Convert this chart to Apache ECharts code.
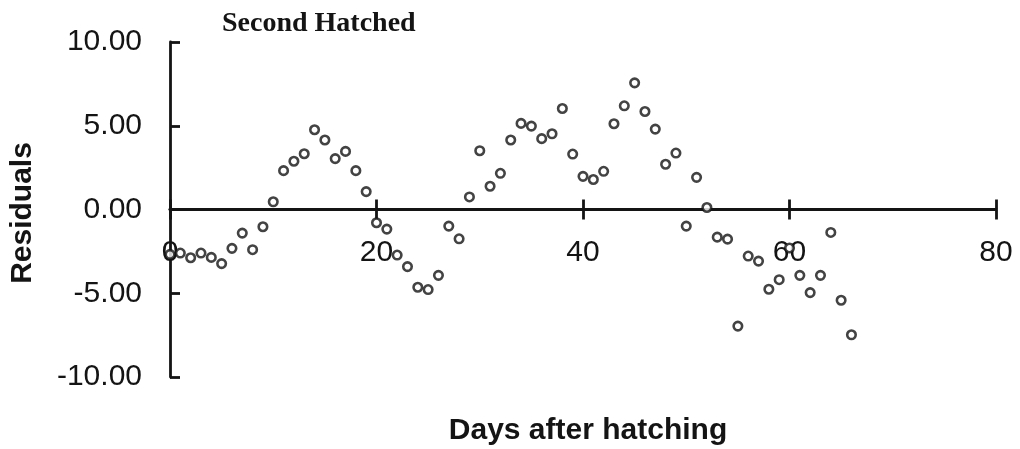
<!DOCTYPE html>
<html>
<head>
<meta charset="utf-8">
<style>
  html, body { margin: 0; padding: 0; background: #ffffff; }
  #chart { width: 1020px; height: 449px; }
</style>
<script src="https://cdn.jsdelivr.net/npm/echarts@6/dist/echarts.min.js"></script>
</head>
<body>
<div id="chart"></div>
<script>
// Residuals of the second hatched group, one value per day after hatching
const days = [
  0, 1, 2, 3, 4, 5, 6, 7, 8, 9,
  10, 11, 12, 13, 14, 15, 16, 17, 18, 19,
  20, 21, 22, 23, 24, 25, 26, 27, 28, 29,
  30, 31, 32, 33, 34, 35, 36, 37, 38, 39,
  40, 41, 42, 43, 44, 45, 46, 47, 48, 49,
  50, 51, 52, 53, 54, 55, 56, 57, 58, 59,
  60, 61, 62, 63, 64, 65, 66
];
const residuals = [
  -2.68, -2.60, -2.88, -2.60, -2.86, -3.23, -2.32, -1.41, -2.40, -1.03,
  0.46, 2.32, 2.88, 3.33, 4.76, 4.15, 3.04, 3.47, 2.32, 1.07,
  -0.79, -1.17, -2.72, -3.41, -4.64, -4.78, -3.93, -0.99, -1.75, 0.75,
  3.51, 1.39, 2.16, 4.15, 5.14, 4.98, 4.23, 4.52, 6.03, 3.31,
  1.98, 1.79, 2.28, 5.12, 6.19, 7.56, 5.85, 4.80, 2.70, 3.37,
  -0.99, 1.92, 0.12, -1.65, -1.77, -6.96, -2.78, -3.08, -4.76, -4.19,
  -2.30, -3.93, -4.96, -3.93, -1.37, -5.42, -7.48
];

// Axis ticks and their labels
const xTicks = [0, 20, 40, 60, 80];
const xTickLabels = ['0', '20', '40', '60', '80'];
const yTicks = [-10, -5, 0, 5, 10];
const yTickLabels = ['-10.00', '-5.00', '0.00', '5.00', '10.00'];

const chartTitle = 'Second Hatched';
const xTitle = 'Days after hatching';
const yTitle = 'Residuals';

const points = days.map((d, i) => [d, residuals[i]]);
const INK = '#141414';
const SANS = '"Liberation Sans", Arial, sans-serif';
const LINE_W = 2.8;

function tickLabel(ticks, labels) {
  return v => {
    const i = ticks.findIndex(t => Math.abs(t - v) < 1e-9);
    return i >= 0 ? labels[i] : '';
  };
}

// The x axis crosses the residual scale at zero; its ticks cut through the
// line, so it is drawn twice: once with ticks below, once with ticks above.
// Each copy sits on zero of its own (identical) y scale.
const baseX = {
  type: 'value',
  min: xTicks[0],
  max: xTicks[xTicks.length - 1],
  interval: 20,
  splitLine: { show: false }
};
const baseY = {
  type: 'value',
  min: yTicks[0],
  max: yTicks[yTicks.length - 1],
  interval: 5,
  splitLine: { show: false }
};

const chart = echarts.init(document.getElementById('chart'), null, { renderer: 'canvas' });
chart.setOption({
  backgroundColor: '#ffffff',
  animation: false,
  title: {
    text: chartTitle,
    left: 217,
    top: 5,
    textStyle: {
      fontFamily: '"Liberation Serif", "Times New Roman", serif',
      fontWeight: 'bold',
      fontSize: 28,
      color: INK
    }
  },
  grid: { left: 170, right: 24, top: 42, bottom: 72, containLabel: false },
  xAxis: [
    Object.assign({}, baseX, {
      position: 'bottom',
      axisLine: { show: true, onZero: true, onZeroAxisIndex: 0, lineStyle: { color: INK, width: LINE_W } },
      axisTick: { show: true, inside: false, length: 10, lineStyle: { color: INK, width: LINE_W } },
      // tick labels hang a little below the zero line
      axisLabel: {
        show: true,
        margin: -139,
        fontFamily: SANS,
        fontSize: 30,
        color: INK,
        formatter: tickLabel(xTicks, xTickLabels)
      }
    }),
    Object.assign({}, baseX, {
      position: 'bottom',
      axisLine: { show: true, onZero: true, onZeroAxisIndex: 1, lineStyle: { color: INK, width: LINE_W } },
      axisTick: { show: true, inside: true, length: 10, lineStyle: { color: INK, width: LINE_W } },
      axisLabel: { show: false }
    })
  ],
  yAxis: [
    Object.assign({}, baseY, {
      position: 'left',
      axisLine: { show: true, onZero: false, lineStyle: { color: INK, width: LINE_W } },
      axisTick: { show: true, inside: true, length: 10, lineStyle: { color: INK, width: LINE_W } },
      axisLabel: {
        margin: 28,
        fontFamily: SANS,
        fontSize: 30,
        color: INK,
        formatter: tickLabel(yTicks, yTickLabels)
      }
    }),
    Object.assign({}, baseY, {
      position: 'left',
      axisLine: { show: false, onZero: false },
      axisTick: { show: false },
      axisLabel: { show: false }
    })
  ],
  graphic: [
    {
      type: 'text',
      x: 588,
      y: 431,
      style: {
        text: xTitle,
        fontFamily: SANS,
        fontWeight: 'bold',
        fontSize: 30,
        fill: INK,
        textAlign: 'center',
        textVerticalAlign: 'middle'
      }
    },
    {
      type: 'text',
      x: 23,
      y: 213,
      rotation: Math.PI / 2,
      style: {
        text: yTitle,
        fontFamily: SANS,
        fontWeight: 'bold',
        fontSize: 30,
        fill: INK,
        textAlign: 'center',
        textVerticalAlign: 'middle'
      }
    }
  ],
  series: [
    {
      type: 'scatter',
      xAxisIndex: 0,
      yAxisIndex: 0,
      data: points,
      symbol: 'circle',
      symbolSize: 8.5,
      itemStyle: { color: '#ffffff', borderColor: INK, borderWidth: 2.6 },
      z: 5
    }
  ]
});
</script>
</body>
</html>
